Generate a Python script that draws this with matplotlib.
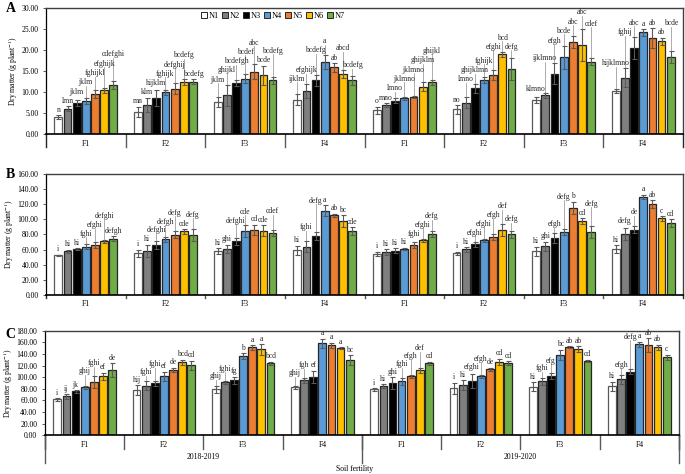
import matplotlib
matplotlib.use('Agg')
import matplotlib.pyplot as plt
from matplotlib.patches import Patch
import matplotlib.transforms as mtransforms

plt.rcParams['font.family'] = ['Liberation Serif', 'DejaVu Serif']
plt.rcParams['mathtext.fontset'] = 'stix'

groups = ['F1', 'F2', 'F3', 'F4', 'F1', 'F2', 'F3', 'F4']
years = ['2018-2019', '2019-2020']
series = ['N1', 'N2', 'N3', 'N4', 'N5', 'N6', 'N7']
colors = ['#FFFFFF', '#7F7F7F', '#000000', '#5B9BD5', '#ED7D31', '#FFC000', '#70AD47']

# ---------------- Panel A ----------------
A_mean = [
    [4.0, 6.1, 7.4, 7.8, 9.5, 10.4, 11.7],
    [5.3, 6.9, 8.6, 10.0, 10.8, 12.4, 12.5],
    [7.7, 9.2, 12.2, 13.2, 14.9, 14.0, 12.8],
    [8.2, 10.3, 12.8, 17.2, 15.9, 14.3, 12.8],
    [5.7, 6.9, 7.9, 8.5, 8.8, 11.3, 12.3],
    [5.9, 7.5, 10.9, 12.9, 14.0, 19.0, 15.4],
    [8.1, 9.2, 14.4, 18.3, 21.9, 21.2, 17.2],
    [10.2, 13.4, 20.5, 24.2, 22.9, 22.1, 18.3]]
A_err = [
    [0.5, 0.5, 0.7, 0.7, 1.0, 0.5, 0.9],
    [1.2, 1.7, 1.8, 0.6, 1.3, 0.8, 0.6],
    [1.2, 2.6, 0.8, 1.0, 1.7, 2.3, 0.8],
    [1.3, 1.7, 1.3, 1.6, 1.0, 1.0, 1.0],
    [0.8, 0.5, 0.6, 0.4, 0.3, 1.0, 0.6],
    [1.0, 1.3, 1.0, 0.8, 1.2, 0.6, 2.6],
    [0.8, 0.5, 2.5, 2.7, 1.5, 3.9, 0.8],
    [0.5, 2.3, 2.6, 0.8, 2.3, 0.8, 1.4]]
A_lab = [
    ['n', 'lmn', 'jklm', 'jklm', 'fghijkl', 'efghijk', 'cdefghi'],
    ['mn', 'klm', 'hijklm', 'fghijk', 'defghij', 'bcdefg', 'bcdefg'],
    ['jklm', 'ghijkl', 'bcdefgh', 'bcdef', 'abc', 'bcde', 'bcdefg'],
    ['ijklm', 'efghijk', 'bcdefg', 'a', 'ab', 'abcd', 'bcdefg'],
    ['o', 'mno', 'lmno', 'jklmno', 'jklmno', 'ghijklm', 'ghijkl'],
    ['no', 'lmno', 'ghijklmn', 'fghijk', 'efghi', 'bcd', 'defg'],
    ['klmno', 'ijklmno', 'efgh', 'bcde', 'abc', 'abc', 'cdef'],
    ['hijklmno', 'fghij', 'abc', 'a', 'ab', 'ab', 'bcde']]

# ---------------- Panel B ----------------
B_mean = [
    [52.2, 57.5, 60.2, 63.7, 66.3, 70.8, 74.3],
    [54.9, 58.4, 66.3, 73.5, 79.6, 84.0, 79.6],
    [57.5, 61.0, 70.8, 84.0, 85.8, 84.8, 81.3],
    [59.2, 63.7, 77.8, 111.4, 105.2, 97.2, 84.5],
    [54.0, 56.2, 58.4, 60.6, 65.9, 72.5, 80.1],
    [54.9, 60.2, 66.8, 72.5, 76.1, 85.8, 80.1],
    [57.5, 64.2, 75.2, 83.1, 115.4, 97.7, 83.1],
    [60.6, 80.5, 86.2, 129.2, 120.3, 101.3, 95.1]]
B_err = [
    [1.0, 2.0, 1.5, 3.0, 4.0, 2.0, 3.0],
    [5.0, 8.0, 5.0, 3.0, 5.0, 3.0, 8.0],
    [4.0, 5.0, 5.0, 8.0, 7.0, 7.0, 4.0],
    [6.0, 7.0, 5.0, 7.0, 2.0, 8.0, 5.0],
    [3.0, 4.0, 3.0, 1.5, 4.0, 2.0, 4.0],
    [2.0, 3.0, 3.0, 2.0, 4.0, 8.0, 5.0],
    [6.0, 6.0, 6.0, 4.0, 8.0, 4.0, 8.0],
    [5.0, 8.0, 5.0, 3.0, 5.0, 3.0, 5.0]]
B_lab = [
    ['i', 'hi', 'hi', 'fghi', 'efghi', 'defghi', 'defgh'],
    ['i', 'hi', 'defghi', 'defgh', 'defg', 'cde', 'defg'],
    ['hi', 'ghi', 'defghi', 'cde', 'cd', 'cde', 'cdef'],
    ['hi', 'fghi', 'defg', 'a', 'ab', 'bc', 'cde'],
    ['i', 'hi', 'hi', 'hi', 'fghi', 'efghi', 'defg'],
    ['i', 'hi', 'efghi', 'efghi', 'efgh', 'def', 'defg'],
    ['hi', 'ghi', 'efgh', 'defg', 'b', 'cd', 'defg'],
    ['hi', 'defg', 'de', 'a', 'ab', 'c', 'cd']]

# ---------------- Panel C ----------------
C_mean = [
    [61.9, 67.0, 75.7, 82.5, 92.2, 102.0, 112.3],
    [77.9, 85.3, 89.4, 101.5, 112.3, 125.5, 120.4],
    [79.6, 91.1, 95.1, 136.4, 151.3, 147.9, 123.8],
    [82.5, 94.6, 100.8, 158.7, 154.8, 150.1, 129.5],
    [79.1, 85.3, 89.9, 93.4, 101.5, 111.8, 123.8],
    [80.8, 86.5, 93.4, 101.5, 113.5, 126.6, 124.9],
    [83.6, 93.4, 102.0, 138.1, 151.8, 148.4, 127.8],
    [84.3, 96.3, 109.4, 156.5, 155.3, 151.3, 134.1]]
C_err = [
    [2.0, 4.0, 2.0, 2.0, 10.0, 6.0, 12.0],
    [8.0, 8.0, 5.0, 8.0, 4.0, 5.0, 8.0],
    [6.0, 2.0, 6.0, 5.0, 4.0, 9.0, 3.0],
    [2.0, 4.0, 10.0, 8.0, 5.0, 2.0, 8.0],
    [2.0, 3.0, 10.0, 6.0, 3.0, 5.0, 3.0],
    [10.0, 8.0, 12.0, 3.0, 3.0, 5.0, 3.0],
    [8.0, 6.0, 5.0, 9.0, 2.0, 5.0, 2.0],
    [8.0, 8.0, 4.0, 5.0, 12.0, 5.0, 5.0]]
C_lab = [
    ['i', 'ij', 'jk', 'ghij', 'fghi', 'ef', 'de'],
    ['hij', 'fghi', 'fghi', 'ef', 'de', 'bcd', 'cd'],
    ['ghij', 'fghi', 'fg', 'b', 'a', 'a', 'bcd'],
    ['ghij', 'fgh', 'ef', 'a', 'a', 'a', 'bc'],
    ['i', 'hi', 'ghi', 'fghi', 'efgh', 'def', 'cd'],
    ['i', 'hi', 'efghi', 'efgh', 'de', 'cd', 'cd'],
    ['hi', 'fghi', 'efg', 'bc', 'ab', 'ab', 'cd'],
    ['hi', 'efgh', 'defg', 'a', 'ab', 'ab', 'c']]

A_ticks = [0, 5, 10, 15, 20, 25, 30]
B_ticks = [0, 20, 40, 60, 80, 100, 120, 140, 160]
C_ticks = [0, 20, 40, 60, 80, 100, 120, 140, 160, 180]

FW, FH = 685, 474
fig = plt.figure(figsize=(FW / 100, FH / 100), dpi=100)

slot = 0.115
bw = 0.098
fs = 5.5
edge = '#262626'
ecol = '#595959'


def draw_panel(rect, means, errs, labs, ticks, sep_px, lh, cw):
    ax = fig.add_axes(rect)
    ymax = ticks[-1]
    ax.set_xlim(-0.5, len(groups) - 0.5)
    ax.set_ylim(0, ymax)
    pxx = FW * rect[2] / len(groups)
    pxy = FH * rect[3] / ymax
    obstacles = []
    for i, s in enumerate(series):
        xs = [g + (i - 3) * slot for g in range(len(groups))]
        vals = [means[g][i] for g in range(len(groups))]
        ers = [errs[g][i] for g in range(len(groups))]
        ax.bar(xs, vals, width=bw, color=colors[i],
               edgecolor=('#595959' if i == 0 else edge), linewidth=0.9,
               label=s, zorder=2)
        ax.errorbar(xs, vals, yerr=ers, fmt='none', ecolor=ecol,
                    elinewidth=0.8, capsize=1.8, capthick=0.8, zorder=3)
        for x, v, e in zip(xs, vals, ers):
            obstacles.append(((x - bw / 2) * pxx, (x + bw / 2) * pxx, 0, (v + e) * pxy))
    for g in range(len(groups)):
        for i in range(len(series)):
            x = g + (i - 3) * slot
            top = means[g][i] + errs[g][i]
            lab = labs[g][i]
            w = len(lab) * cw
            x0, x1 = x * pxx - w / 2, x * pxx + w / 2
            base = top * pxy + 1.5
            y0 = base
            moved = True
            while moved:
                moved = False
                for (a0, a1, b0, b1) in obstacles:
                    if x1 > a0 and x0 < a1 and y0 + lh > b0 and y0 < b1:
                        y0 = b1 + 0.8
                        moved = True
            obstacles.append((x0, x1, y0, y0 + lh))
            ax.text(x, y0 / pxy, lab, ha='center', va='bottom', fontsize=fs,
                    color='#262626', zorder=4)
            if y0 - base > 3:
                ax.plot([x, x], [top, (y0 + 0.5) / pxy], color='#8c8c8c',
                        lw=0.5, zorder=1)
    ax.set_yticks(ticks)
    ax.set_yticklabels([f'{t:.2f}' for t in ticks], fontsize=fs)
    ax.set_xticks(range(len(groups)))
    ax.set_xticklabels(groups, fontsize=fs)
    ax.tick_params(axis='x', length=0, pad=4)
    ax.tick_params(axis='y', length=2.5, width=0.6, direction='out', pad=3,
                   color='#404040')
    for sp in ['top', 'right']:
        ax.spines[sp].set_color('#404040')
        ax.spines[sp].set_linewidth(1.0)
    ax.spines['left'].set_linewidth(0.9)
    ax.spines['bottom'].set_linewidth(1.2)
    ax.set_ylabel('Dry matter (g plant$^{-1}$)', fontsize=fs, labelpad=1)
    trans = mtransforms.blended_transform_factory(ax.transData, ax.transAxes)
    depth = sep_px / (FH * rect[3])
    for k in range(len(groups) + 1):
        ax.plot([k - 0.5, k - 0.5], [0, -depth], transform=trans,
                color='#595959' if 0 < k < len(groups) else '#262626',
                lw=1.0, clip_on=False)
    return ax, trans


axA, _ = draw_panel([0.0672, 0.717, 0.930, 0.266], A_mean, A_err, A_lab, A_ticks, 13, 8.5, 3.4)
axB, _ = draw_panel([0.0672, 0.378, 0.930, 0.255], B_mean, B_err, B_lab, B_ticks, 3, 8.0, 3.3)
axC, transC = draw_panel([0.0657, 0.0816, 0.9255, 0.2205], C_mean, C_err, C_lab, C_ticks, 14, 7.0, 3.0)

depth2 = 28 / (FH * 0.2205)
for k in [0, 4, 8]:
    axC.plot([k - 0.5, k - 0.5], [0, -depth2], transform=transC,
             color='#595959', lw=1.0, clip_on=False)
axC.text(1.5, -22 / (FH * 0.2205), years[0], transform=transC,
         ha='center', va='center', fontsize=fs)
axC.text(5.5, -22 / (FH * 0.2205), years[1], transform=transC,
         ha='center', va='center', fontsize=fs)
fig.text(355 / FW, 1 - 469 / FH, 'Soil fertility', ha='center', va='center',
         fontsize=fs)

handles = [Patch(facecolor=c, edgecolor='#262626', linewidth=0.7) for c in colors]
axA.legend(handles, series, loc='center', bbox_to_anchor=(0.356, 0.935),
           ncol=7, frameon=False, fontsize=6, handlelength=0.7,
           handleheight=0.7, handletextpad=0.2, columnspacing=0.4,
           borderaxespad=0)

for letter, y in [('A', 8), ('B', 174), ('C', 334)]:
    fig.text(0.008, 1 - y / FH, letter, fontsize=10, fontweight='bold',
             ha='left', va='center')

fig.savefig('out.png', dpi=100)
